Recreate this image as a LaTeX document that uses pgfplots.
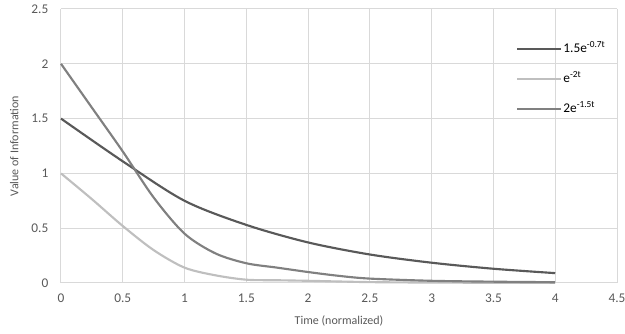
\documentclass[border=0pt]{standalone}
\usepackage{pgfplots}
\pgfplotsset{compat=1.18}
\usepackage{fontspec}
\setmainfont{Carlito}
\definecolor{txt}{HTML}{595959}
\definecolor{grd}{HTML}{D9D9D9}
\definecolor{sA}{HTML}{595959}
\definecolor{sB}{HTML}{BFBFBF}
\definecolor{sC}{HTML}{808080}
\begin{document}
\begin{tikzpicture}
\begin{axis}[
  at={(0pt,0pt)}, anchor=south west,
  scale only axis, width=417pt, height=205.5pt,
  xmin=0, xmax=4.5, ymin=0, ymax=2.5,
  xtick={0,0.5,...,4.5}, ytick={0,0.5,...,2.5},
  xticklabels={0,0.5,1,1.5,2,2.5,3,3.5,4,4.5},
  yticklabels={0,0.5,1,1.5,2,2.5},
  grid=major, grid style={grd, line width=0.75pt},
  axis line style={draw=none},
  axis x line*=bottom, axis y line*=left,
  major tick length=0pt,
  tick label style={font=\fontsize{10}{12}\selectfont, text=txt},
  xticklabel style={yshift=-4.5pt},
  yticklabel style={xshift=-6pt},
  /pgf/number format/assume math mode=true,
  every axis y label/.style={at={(axis description cs:0,0.5)}, rotate=90, anchor=center, yshift=35pt, font=\fontsize{9}{11}\selectfont, text=txt},
  every axis x label/.style={at={(axis description cs:0.5,0)}, anchor=center, yshift=-28.5pt, font=\fontsize{9}{11}\selectfont, text=txt},
  xlabel={Time (normalized)},
  ylabel={Value of Information},
  legend style={at={(axis description cs:0,1)}, anchor=north west, xshift=341pt, yshift=-23.5pt,
    draw=none, fill=none, inner sep=0pt, row sep=10.5pt, font=\fontsize{10}{12}\selectfont, text=black,
    nodes={inner sep=1pt, text height=8pt, text depth=2pt}},
  legend cell align=left,
  legend image code/.code={\draw[#1] (0pt,0pt) -- (25pt,0pt); \path (25pt,0pt) -- (33pt,0pt);},
  every axis plot/.append style={line width=1.6pt, smooth, no markers},
  clip=false,
]
\addplot[sA] coordinates {(0,1.5) (0.5,1.11) (1,0.75) (1.5,0.53) (2,0.37) (2.5,0.26) (3,0.185) (3.5,0.13) (4,0.09)};
\addlegendentry{1.5e\textsuperscript{-0.7t}}
\addplot[sB] coordinates {(0,1) (0.25,0.765) (0.5,0.52) (0.75,0.3) (1,0.14) (1.25,0.07) (1.5,0.03) (1.75,0.025) (2,0.02) (2.5,0.008) (3,0.004) (3.5,0.002) (4,0.001)};
\addlegendentry{e\textsuperscript{-2t}}
\addplot[sC] coordinates {(0,2) (0.25,1.6) (0.5,1.2) (0.75,0.78) (1,0.45) (1.25,0.27) (1.5,0.18) (1.75,0.14) (2,0.1) (2.25,0.065) (2.5,0.04) (3,0.02) (3.5,0.012) (4,0.007)};
\addlegendentry{2e\textsuperscript{-1.5t}}
\end{axis}
\pgfresetboundingbox
\path[use as bounding box] (-45.75pt,-38.25pt) rectangle (423pt,212.25pt);
\end{tikzpicture}
\end{document}
